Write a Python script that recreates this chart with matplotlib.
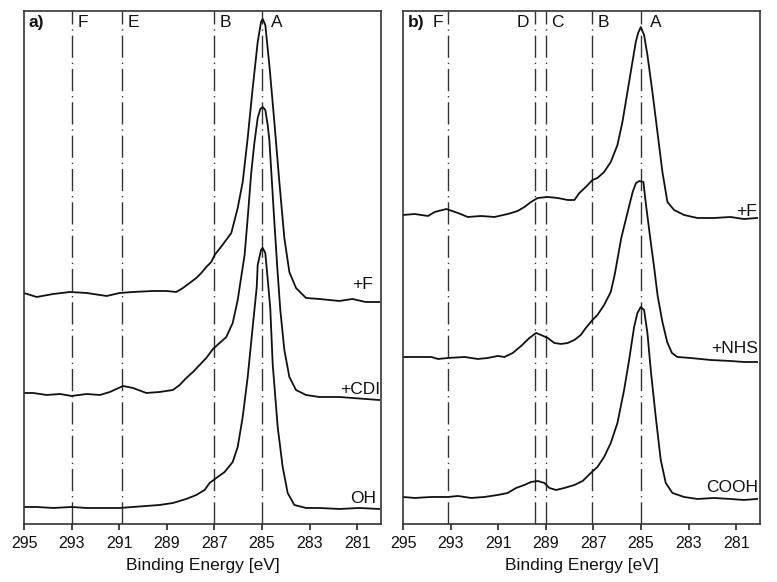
import matplotlib
matplotlib.use("Agg")
import matplotlib.pyplot as plt

plt.rcParams['font.family'] = ['Liberation Sans', 'DejaVu Sans']

# ---- panel a) ----
a_f_ev = [295.0, 294.47, 293.77, 293.07, 292.37, 291.53, 290.98, 290.42, 289.58, 289.02,
          288.6, 288.32, 288.04, 287.76, 287.55, 287.34, 287.13, 286.99, 286.66, 286.29,
          286.02, 285.81, 285.6, 285.39, 285.18, 285.04, 284.97, 284.86, 284.69, 284.48,
          284.27, 284.06, 283.85, 283.57, 283.15, 282.59, 281.75, 281.2, 280.64, 280.08]
a_f_int = [9, 5, 8, 10, 9, 6, 9, 10, 11, 11,
           10, 14, 19, 24, 29, 35, 40, 47, 57, 69,
           94, 120, 164, 214, 260, 280, 283, 277, 237, 180,
           120, 64, 30, 14, 4, 3, 1, 3, 0, 0]

a_cdi_ev = [295.0, 294.61, 294.05, 293.49, 293.0, 292.37, 291.81, 291.39, 290.84, 290.42,
            289.86, 289.3, 288.74, 288.46, 288.18, 287.9, 287.62, 287.34, 287.06, 286.78,
            286.5, 286.23, 286.02, 285.86, 285.73, 285.59, 285.46, 285.32, 285.18, 285.07,
            284.97, 284.86, 284.76, 284.69, 284.6, 284.48, 284.35, 284.23, 284.06, 283.85,
            283.57, 283.15, 282.59, 281.75, 281.2, 280.64, 280.08]
a_cdi_int = [7, 7, 5, 6, 4, 6, 5, 8, 14, 12,
             7, 8, 10, 15, 22, 28, 35, 42, 51, 57,
             63, 77, 100, 125, 145, 185, 225, 257, 282, 291,
             293, 290, 275, 260, 225, 178, 130, 90, 50, 23,
             10, 5, 3, 3, 2, 1, 0]

a_oh_ev = [295.0, 294.47, 293.77, 293.0, 292.37, 291.68, 290.98, 290.42, 289.86, 289.3,
           288.74, 288.18, 287.76, 287.41, 287.2, 286.92, 286.57, 286.23, 286.02, 285.81,
           285.6, 285.39, 285.22, 285.18, 285.04, 284.97, 284.86, 284.76, 284.65, 284.55,
           284.34, 284.13, 283.92, 283.64, 283.15, 282.59, 281.75, 280.92, 280.08]
a_oh_int = [2, 2, 1, 2, 1, 1, 1, 2, 3, 4,
            6, 10, 14, 19, 26, 31, 37, 47, 62, 92,
            132, 182, 222, 244, 259, 261, 256, 230, 200, 145,
            82, 42, 16, 4, 1, 1, 0, 1, 0]

# ---- panel b) ----
b_f_ev = [295.0, 294.51, 293.95, 293.67, 293.18, 292.69, 292.28, 291.72, 291.16, 290.6,
          290.18, 289.9, 289.62, 289.34, 288.92, 288.5, 288.08, 287.8, 287.59, 287.32,
          287.04, 286.83, 286.55, 286.27, 285.99, 285.78, 285.57, 285.36, 285.22, 285.12,
          285.01, 284.87, 284.73, 284.52, 284.31, 284.1, 283.89, 283.61, 283.19, 282.63,
          281.93, 281.24, 280.68, 280.12]
b_f_int = [4, 5, 3, 7, 10, 6, 2, 3, 2, 5,
           8, 12, 17, 21, 22, 21, 19, 19, 26, 32,
           39, 41, 47, 57, 74, 97, 127, 157, 177, 186,
           192, 184, 164, 127, 87, 47, 17, 9, 4, 1,
           1, 2, 0, 1]

b_nhs_ev = [295.0, 294.51, 293.81, 293.53, 293.11, 292.41, 291.86, 291.44, 291.02, 290.74,
            290.39, 290.04, 289.69, 289.41, 289.2, 288.92, 288.64, 288.36, 288.08, 287.8,
            287.53, 287.32, 287.04, 286.83, 286.55, 286.27, 286.1, 285.83, 285.56, 285.35,
            285.21, 285.07, 284.9, 284.79, 284.58, 284.45, 284.3, 284.1, 283.9, 283.7,
            283.47, 282.92, 282.08, 281.24, 280.68, 280.12]
b_nhs_int = [5, 5, 5, 3, 4, 5, 3, 4, 6, 5,
             9, 16, 24, 29, 27, 24, 19, 18, 19, 22,
             27, 34, 42, 47, 57, 70, 88, 124, 150, 170,
             179, 181, 180, 157, 118, 95, 66, 40, 20, 9,
             5, 4, 2, 1, 0, 0]

b_cooh_ev = [295.0, 294.51, 293.81, 293.11, 292.69, 292.14, 291.58, 291.02, 290.6, 290.25,
             289.9, 289.62, 289.34, 289.06, 288.85, 288.57, 288.22, 287.8, 287.45, 287.11,
             286.83, 286.55, 286.27, 285.99, 285.71, 285.5, 285.29, 285.15, 285.01, 284.87,
             284.73, 284.59, 284.38, 284.17, 283.96, 283.68, 283.19, 282.63, 281.93, 281.24,
             280.68, 280.12]
b_cooh_int = [3, 2, 3, 3, 4, 2, 3, 5, 7, 12,
              15, 18, 19, 17, 12, 10, 12, 15, 19, 27,
              33, 43, 57, 77, 110, 140, 173, 187, 193, 190,
              167, 130, 83, 40, 17, 7, 3, 1, 2, 1,
              0, 1]

a_labels = ['+F', '+CDI', 'OH']
a_offsets = [222, 124, 15]
b_labels = ['+F', '+NHS', 'COOH']
b_offsets = [305, 162, 24]

a_lines = [(293.0, 'F'), (290.9, 'E'), (287.0, 'B'), (285.0, 'A')]
b_lines = [(293.1, 'F'), (289.45, 'D'), (289.0, 'C'), (287.05, 'B'), (285.0, 'A')]
ticks = [295, 293, 291, 289, 287, 285, 283, 281]

fig = plt.figure(figsize=(7.77, 5.82), dpi=100)
ax_a = fig.add_axes([0.0309, 0.0997, 0.4594, 0.8814])
ax_b = fig.add_axes([0.5187, 0.0997, 0.4594, 0.8814])

panels = [
    (ax_a, 'a)', [(a_f_ev, a_f_int), (a_cdi_ev, a_cdi_int), (a_oh_ev, a_oh_int)],
     a_labels, a_offsets, a_lines, [374, 381, 377], [17, 10, 10]),
    (ax_b, 'b)', [(b_f_ev, b_f_int), (b_nhs_ev, b_nhs_int), (b_cooh_ev, b_cooh_int)],
     b_labels, b_offsets, b_lines, [758, 759, 759], [7, 13, 12]),
]

for ax, tag, curves, labels, offsets, vlines, lab_px, lab_dy in panels:
    x0 = 24 if tag == 'a)' else 403
    for (ev, inten), lab, off, px, dy in zip(curves, labels, offsets, lab_px, lab_dy):
        ax.plot(ev, [v + off for v in inten], color='#111111', lw=1.3)
        ax.text(295 - (px - x0) / 23.857, off + dy, lab, ha='right', va='center',
                fontsize=12.5, color='#111111')

    for pos, name in vlines:
        ax.axvline(pos, color='#333333', lw=1.0, ls=(0, (16, 3.5, 1, 3.5)), zorder=1)
        left_side = tag == 'b)' and name in ('F', 'D')
        dx = -4 if left_side else (6.5 if name == 'A' else 4)
        ax.annotate(name, xy=(pos, 1), xycoords=('data', 'axes fraction'),
                    xytext=(dx, -8.5), textcoords='offset points',
                    ha='right' if left_side else 'left', va='center',
                    fontsize=12.5, color='#111111')

    ax.text(0.012, 0.977, tag, transform=ax.transAxes, ha='left', va='center',
            fontsize=12.5, fontweight='bold', color='#111111')

    ax.set_xlim(295, 280)
    ax.set_ylim(0, 513)
    ax.set_xticks(ticks)
    ax.set_xticklabels([str(t) for t in ticks])
    ax.set_yticks([])
    ax.tick_params(axis='x', direction='out', length=4.5, width=1.1, pad=4,
                   labelsize=11.5, colors='#111111')
    ax.set_xlabel('Binding Energy [eV]', fontsize=12.5, labelpad=5, color='#111111')
    for sp in ax.spines.values():
        sp.set_color('#333333')
        sp.set_linewidth(1.2)

fig.savefig('out.png', dpi=100)
